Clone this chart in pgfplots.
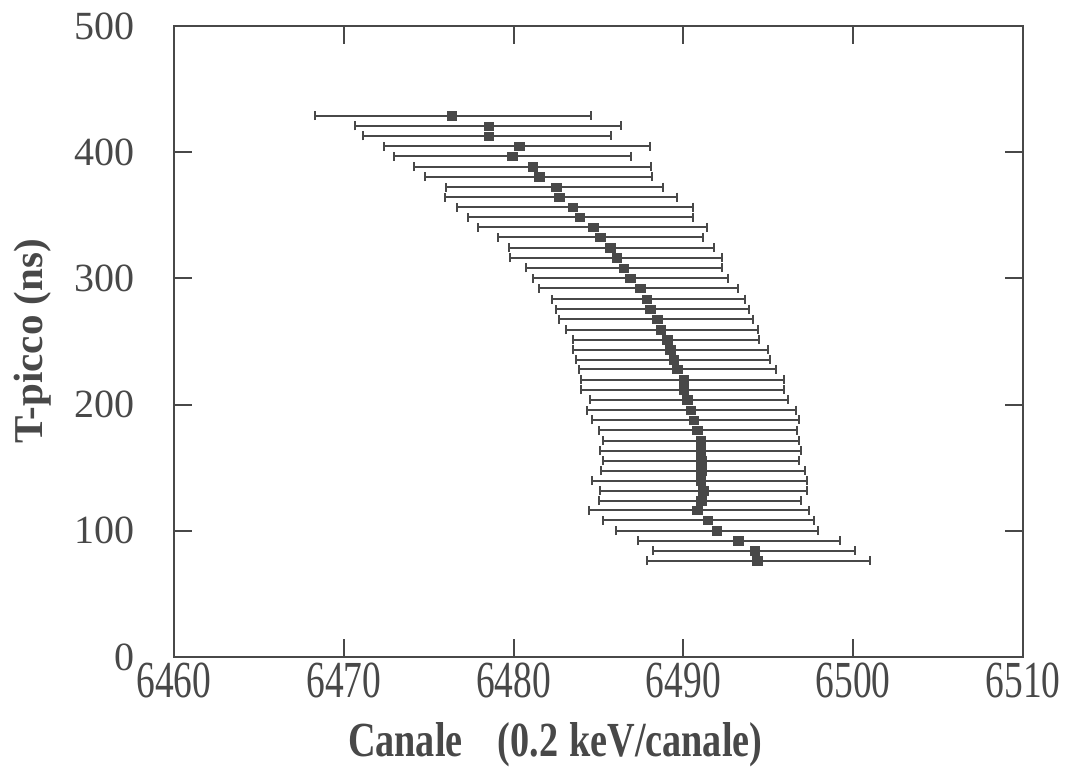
\documentclass[border=0pt]{standalone}
\usepackage{graphicx}
\usepackage{pgfplots}
\pgfplotsset{compat=1.18}
\usepackage{fontspec}
\setmainfont{Liberation Serif}
\definecolor{ink}{RGB}{72,72,72}
\pgfplotstableread{
x y em ep
6476.35 429.0 8.05 8.18
6478.54 420.8 7.89 7.76
6478.54 412.9 7.40 7.22
6480.33 404.6 7.95 7.73
6479.91 396.7 6.93 7.03
6481.12 388.5 7.01 6.99
6481.51 380.6 6.71 6.62
6482.51 372.3 6.48 6.30
6482.70 364.3 6.75 6.92
6483.49 356.4 6.83 7.07
6483.90 348.4 6.60 6.65
6484.68 340.5 6.79 6.70
6485.09 332.6 6.03 6.05
6485.69 324.4 5.98 6.09
6486.08 316.4 6.28 6.17
6486.48 308.3 5.74 5.77
6486.86 300.3 5.69 5.74
6487.45 292.1 5.95 5.77
6487.84 283.6 5.55 5.79
6488.03 275.7 5.55 5.83
6488.44 267.5 5.75 5.68
6488.66 259.3 5.58 5.75
6489.05 251.4 5.58 5.42
6489.24 243.5 5.77 5.73
6489.43 235.6 5.77 5.68
6489.63 227.9 5.77 5.85
6490.01 219.7 6.06 5.92
6490.01 211.8 6.07 5.89
6490.23 203.9 5.76 5.93
6490.42 195.7 6.09 6.22
6490.61 187.8 6.00 6.22
6490.81 179.6 5.78 5.87
6491.02 171.4 5.77 5.77
6491.02 163.5 5.95 5.91
6491.03 155.6 5.79 5.79
6491.05 147.7 5.93 6.11
6491.01 139.8 6.38 6.24
6491.16 131.9 6.08 6.09
6491.04 124.0 6.01 5.89
6490.80 116.1 6.38 6.60
6491.43 108.2 6.17 6.28
6491.97 100.2 5.96 5.98
6493.23 92.2 5.89 5.97
6494.19 84.2 5.99 5.93
6494.36 76.3 6.52 6.60
}\datatable
\begin{document}
\begin{tikzpicture}
\useasboundingbox (0,0) rectangle (1076pt,771pt);
\begin{axis}[
  at={(174pt,114pt)}, anchor=south west,
  scale only axis, width=849pt, height=631pt,
  xmin=6460, xmax=6510, ymin=0, ymax=500,
  xtick={6460,6470,6480,6490,6500,6510},
  xticklabels={6460,6470,6480,6490,6500,6510},
  ytick={0,100,200,300,400,500},
  tick align=inside, major tick length=18pt,
  axis line style={ink, line width=2.2pt},
  every tick/.style={ink, line width=2pt},
  /pgf/number format/assume math mode=true,
  /pgf/number format/1000 sep={},
  yticklabel style={font=\fontsize{40}{40}\selectfont, text=ink, xshift=-36pt},
  xticklabel style={font=\fontsize{52}{52}\selectfont, text=ink, xscale=0.72, yshift=-2pt},
  xlabel={\textbf{Canale\hspace{45pt}(0.2\hspace{14pt}keV/canale)}},
  xlabel style={font=\fontsize{49}{49}\selectfont, text=ink, xscale=0.78, at={(axis description cs:0.449,-0.139)}, anchor=center},
  ylabel={\textbf{T-picco (ns)}},
  ylabel style={font=\fontsize{41}{41}\selectfont, text=ink, at={(axis description cs:-0.167,0.5)}, anchor=center},
]
\addplot[only marks, mark=square*, mark size=4.2pt,
  mark options={ink, fill=ink, rounded corners=1.6pt, xscale=1.15},
  error bars/.cd, x dir=both, x explicit,
  error bar style={ink, line width=2pt},
  error mark=|,
  error mark options={ink, line width=2pt, mark size=4.5pt}]
  table[x=x, y=y, x error minus=em, x error plus=ep] {\datatable};
\end{axis}
\end{tikzpicture}
\end{document}
